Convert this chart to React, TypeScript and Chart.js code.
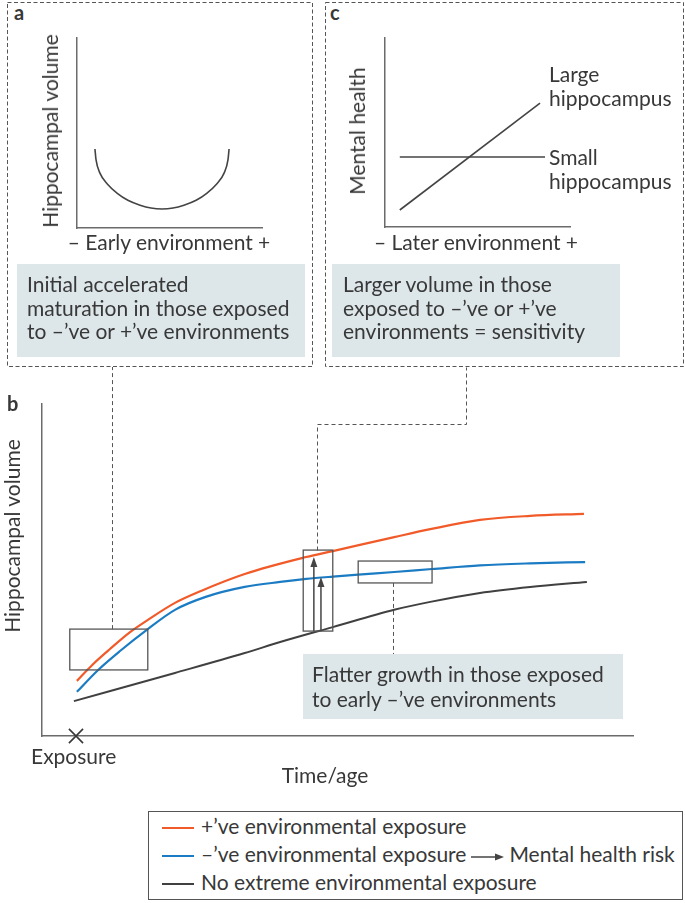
import React, { useEffect, useRef } from "react";
import { Chart, registerables } from "chart.js";

Chart.register(...registerables);

const FONT = "Lato, 'Open Sans', 'DejaVu Sans', sans-serif";
const INK = "#383838";
const AXIS = "#6b6b6b";
const ORANGE = "#f15a29";
const BLUE = "#1b7cc4";
const DARK = "#404040";
const PANEL = "#dde6e8";

// ---------- panel a : hippocampal volume vs early environment (U shape)
const earlyEnvironment = [9.7, 10.3, 12.4, 16.5, 21.6, 27.5, 34.1, 40, 46, 51.9, 57.8, 64.4, 70.3, 75.4, 79.5, 81.6, 82.2];
const earlyVolume = [41.6, 35.8, 28.9, 23, 18.4, 14.6, 12, 10.5, 10, 10.5, 12, 14.6, 18.4, 23, 28.9, 35.8, 41.6];

// ---------- panel c : mental health vs later environment
const smallEnvironment = [8, 86.5];
const smallHealth = [37, 37];
const largeEnvironment = [8, 83.8];
const largeHealth = [9, 65.6];

// ---------- panel b : hippocampal volume over time/age
const posTime = [5.9, 8.5, 11.5, 14.9, 18.1, 22.5, 26.9, 34.3, 44.7, 49.2, 59.6, 65.7, 74.1, 82.6, 91.7];
const posVolume = [16.6, 21.4, 26.2, 31.3, 35.2, 40.1, 43.7, 48.8, 53.9, 55.7, 59.9, 62.3, 65.1, 66.3, 66.9];
const negTime = [5.9, 9.5, 13.2, 17.9, 22.5, 27.7, 34.3, 40.3, 44.7, 49.2, 53.5, 59.6, 66.0, 74.1, 82.6, 91.9];
const negVolume = [13.3, 19.9, 25.6, 32.2, 38.0, 41.9, 44.9, 46.4, 47.3, 48.0, 48.6, 49.4, 50.3, 51.4, 52.0, 52.4];
const noneTime = [5.4, 22.5, 34.3, 40.3, 49.2, 59.6, 65.7, 74.1, 82.6, 92.2];
const noneVolume = [10.5, 19.0, 25.0, 28.3, 32.8, 38.0, 40.4, 43.1, 44.9, 46.4];
const exposureTime = 5.75;

// highlight windows in panel b
const boxTimeStart = [4.7, 44.2, 53.5];
const boxTimeEnd = [17.9, 49.2, 66.0];
const boxVolLow = [19.9, 31.6, 46.1];
const boxVolHigh = [32.2, 56.0, 52.7];
// arrows (difference to reference curve)
const arrowTime = [46.0, 47.2];
const arrowFrom = [31.6, 31.6];
const arrowTo = [53.9, 47.9];
// dashed leaders (null = top edge of the panel)
const leaderTime = [11.8, 59.4];
const leaderFrom = [32.2, 46.1];
const leaderTo: (number | null)[] = [null, 24.7];
const elbowTime = [46.5, 46.5, 71.7, 71.7];
const elbowVol: (number | null)[] = [56.0, 94.0, 94.0, null];

type Pt = { x: number; y: number };
const pts = (xs: number[], ys: number[]): Pt[] => xs.map((x, i) => ({ x, y: ys[i] }));

function axisScale() {
  return {
    type: "linear" as const,
    min: 0,
    max: 100,
    ticks: { display: false },
    grid: { display: false, drawTicks: false, tickLength: 0 },
    border: { display: true, color: AXIS, width: 1.5 },
  };
}

function baseOptions(padding: any): any {
  return {
    responsive: false,
    animation: false,
    events: [],
    layout: { padding, autoPadding: false },
    plugins: { legend: { display: false }, tooltip: { enabled: false } },
    scales: { x: axisScale(), y: axisScale() },
  };
}

function lineSet(label: string, data: Pt[], color: string, width: number): any {
  return {
    label,
    data,
    borderColor: color,
    backgroundColor: color,
    borderWidth: width,
    pointRadius: 0,
    fill: false,
    cubicInterpolationMode: "monotone",
    clip: false,
  };
}

const panelBMarks = {
  id: "panelBMarks",
  afterDatasetsDraw(chart: any) {
    const { ctx } = chart;
    const xs = chart.scales.x;
    const ys = chart.scales.y;
    const X = (v: number) => xs.getPixelForValue(v);
    const Y = (v: number | null) => (v === null ? 0 : ys.getPixelForValue(v));
    ctx.save();
    // windows
    ctx.strokeStyle = "#555";
    ctx.lineWidth = 1.3;
    for (let i = 0; i < boxTimeStart.length; i++) {
      const x0 = X(boxTimeStart[i]);
      const x1 = X(boxTimeEnd[i]);
      const y0 = Y(boxVolHigh[i]);
      const y1 = Y(boxVolLow[i]);
      ctx.strokeRect(x0, y0, x1 - x0, y1 - y0);
    }
    // arrows
    ctx.strokeStyle = "#444";
    ctx.fillStyle = "#444";
    ctx.lineWidth = 1.5;
    for (let i = 0; i < arrowTime.length; i++) {
      const x = X(arrowTime[i]);
      const yb = Y(arrowFrom[i]);
      const yt = Y(arrowTo[i]);
      ctx.beginPath();
      ctx.moveTo(x, yb);
      ctx.lineTo(x, yt + 8);
      ctx.stroke();
      ctx.beginPath();
      ctx.moveTo(x, yt);
      ctx.lineTo(x - 3.5, yt + 10);
      ctx.lineTo(x + 3.5, yt + 10);
      ctx.closePath();
      ctx.fill();
    }
    // dashed leaders
    ctx.setLineDash([4, 3]);
    ctx.lineWidth = 1;
    ctx.strokeStyle = "#555";
    for (let i = 0; i < leaderTime.length; i++) {
      const x = Math.round(X(leaderTime[i])) + 0.5;
      ctx.beginPath();
      ctx.moveTo(x, Y(leaderFrom[i]));
      ctx.lineTo(x, Y(leaderTo[i]));
      ctx.stroke();
    }
    ctx.beginPath();
    for (let i = 0; i < elbowTime.length; i++) {
      const x = Math.round(X(elbowTime[i])) + 0.5;
      const y = Math.round(Y(elbowVol[i])) + 0.5;
      if (i === 0) ctx.moveTo(x, y);
      else ctx.lineTo(x, y);
    }
    ctx.stroke();
    ctx.restore();
  },
};

const makeA = () => ({
  type: "line",
  data: { datasets: [lineSet("Hippocampal volume", pts(earlyEnvironment, earlyVolume), "#444", 1.6)] },
  options: baseOptions({ left: 17, top: 8, right: 13, bottom: 12 }),
});

const makeC = () => ({
  type: "line",
  data: {
    datasets: [
      lineSet("Small hippocampus", pts(smallEnvironment, smallHealth), "#444", 1.6),
      lineSet("Large hippocampus", pts(largeEnvironment, largeHealth), "#444", 1.6),
    ],
  },
  options: baseOptions({ left: 20, top: 8, right: 15, bottom: 13 }),
});

const makeB = () => ({
  type: "line",
  data: {
    datasets: [
      lineSet("No extreme environmental exposure", pts(noneTime, noneVolume), DARK, 2),
      lineSet("–’ve environmental exposure", pts(negTime, negVolume), BLUE, 2.2),
      lineSet("+’ve environmental exposure", pts(posTime, posVolume), ORANGE, 2.2),
      {
        type: "scatter",
        label: "Exposure",
        data: [{ x: exposureTime, y: 0 }],
        pointStyle: "crossRot",
        pointRadius: 10,
        borderColor: INK,
        backgroundColor: "transparent",
        borderWidth: 1.6,
        clip: false,
      },
    ],
  },
  options: baseOptions({ left: 42, top: 37, right: 52, bottom: 71 }),
  plugins: [panelBMarks],
});

function ChartCanvas(props: { left: number; top: number; width: number; height: number; make: () => any }) {
  const ref = useRef<HTMLCanvasElement>(null);
  useEffect(() => {
    const chart = new Chart(ref.current as HTMLCanvasElement, props.make());
    return () => chart.destroy();
  }, []);
  const { left, top, width, height } = props;
  return (
    <canvas
      ref={ref}
      width={width}
      height={height}
      style={{ position: "absolute", left, top, width, height }}
    />
  );
}

function Txt(props: { x: number; y: number; children: any; size?: number; lh?: number; bold?: boolean; style?: any }) {
  const { x, y, children, size = 21, lh = 24, bold = false, style = {} } = props;
  return (
    <div
      style={{
        position: "absolute",
        left: x,
        top: y,
        fontSize: size,
        lineHeight: lh + "px",
        fontWeight: bold ? 700 : 400,
        whiteSpace: "nowrap",
        ...style,
      }}
    >
      {children}
    </div>
  );
}

function Centered(props: { cx: number; cy: number; children: any; rotate?: boolean }) {
  return (
    <div
      style={{
        position: "absolute",
        left: props.cx,
        top: props.cy,
        fontSize: 21,
        lineHeight: "24px",
        whiteSpace: "nowrap",
        transform: "translate(-50%, -50%)" + (props.rotate ? " rotate(-90deg)" : ""),
      }}
    >
      {props.children}
    </div>
  );
}

function LegendRow(props: { top: number; color: string; children: any }) {
  return (
    <>
      <div style={{ position: "absolute", left: 162, top: props.top + 15, width: 32, height: 2, background: props.color }} />
      <Txt x={201} y={props.top} lh={28}>
        {props.children}
      </Txt>
    </>
  );
}

export default function App() {
  return (
    <div
      style={{
        position: "absolute",
        left: 0,
        top: 0,
        width: 685,
        height: 903,
        background: "#fff",
        fontFamily: FONT,
        color: INK,
        overflow: "hidden",
      }}
    >
      {/* dashed frames of panels a and c */}
      <svg width={685} height={903} style={{ position: "absolute", left: 0, top: 0 }}>
        <rect x={7.5} y={2.5} width={305} height={364} fill="none" stroke="#555" strokeWidth={1} strokeDasharray="4 2.5" />
        <rect x={325.5} y={2.5} width={358} height={364} fill="none" stroke="#555" strokeWidth={1} strokeDasharray="4 2.5" />
      </svg>

      {/* grey note boxes */}
      <div style={{ position: "absolute", left: 17, top: 264, width: 288, height: 93, background: PANEL }} />
      <div style={{ position: "absolute", left: 332, top: 264, width: 288, height: 93, background: PANEL }} />
      <div style={{ position: "absolute", left: 303, top: 654, width: 320, height: 65, background: PANEL }} />

      <ChartCanvas left={60} top={30} width={215} height={210} make={makeA} />
      <ChartCanvas left={365} top={30} width={220} height={210} make={makeC} />
      <ChartCanvas left={0} top={367} width={685} height={440} make={makeB} />

      {/* panel a text */}
      <Txt x={14} y={0} size={20} bold>a</Txt>
      <Centered cx={50} cy={130.5} rotate>Hippocampal volume</Centered>
      <Centered cx={169} cy={242}>– Early environment +</Centered>
      <Txt x={27} y={272} lh={23.5}>
        Initial accelerated
        <br />
        maturation in those exposed
        <br />
        to –’ve or +’ve environments
      </Txt>

      {/* panel c text */}
      <Txt x={330} y={0} size={20} bold>c</Txt>
      <Centered cx={357} cy={131} rotate>Mental health</Centered>
      <Centered cx={476} cy={242}>– Later environment +</Centered>
      <Txt x={549} y={62}>
        Large
        <br />
        hippocampus
      </Txt>
      <Txt x={549} y={145}>
        Small
        <br />
        hippocampus
      </Txt>
      <Txt x={343} y={272} lh={23.5}>
        Larger volume in those
        <br />
        exposed to –’ve or +’ve
        <br />
        environments = sensitivity
      </Txt>

      {/* panel b text */}
      <Txt x={7} y={391} size={20} bold>b</Txt>
      <Centered cx={12} cy={536} rotate>Hippocampal volume</Centered>
      <Txt x={31} y={744}>Exposure</Txt>
      <Centered cx={325} cy={775}>Time/age</Centered>
      <Txt x={312} y={661} lh={25}>
        Flatter growth in those exposed
        <br />
        to early –’ve environments
      </Txt>

      {/* legend */}
      <div
        style={{
          position: "absolute",
          left: 148,
          top: 811,
          width: 535,
          height: 89,
          border: "1px solid #555",
          boxSizing: "border-box",
        }}
      />
      <LegendRow top={812} color={ORANGE}>+’ve environmental exposure</LegendRow>
      <LegendRow top={840} color={BLUE}>
        –’ve environmental exposure
        <svg width={34} height={10} style={{ margin: "0 4px 0 5px", verticalAlign: "middle" }}>
          <line x1={0} y1={5} x2={25} y2={5} stroke="#444" strokeWidth={1.5} />
          <polygon points="24,1.5 33,5 24,8.5" fill="#444" />
        </svg>
        Mental health risk
      </LegendRow>
      <LegendRow top={868} color={DARK}>No extreme environmental exposure</LegendRow>
    </div>
  );
}
